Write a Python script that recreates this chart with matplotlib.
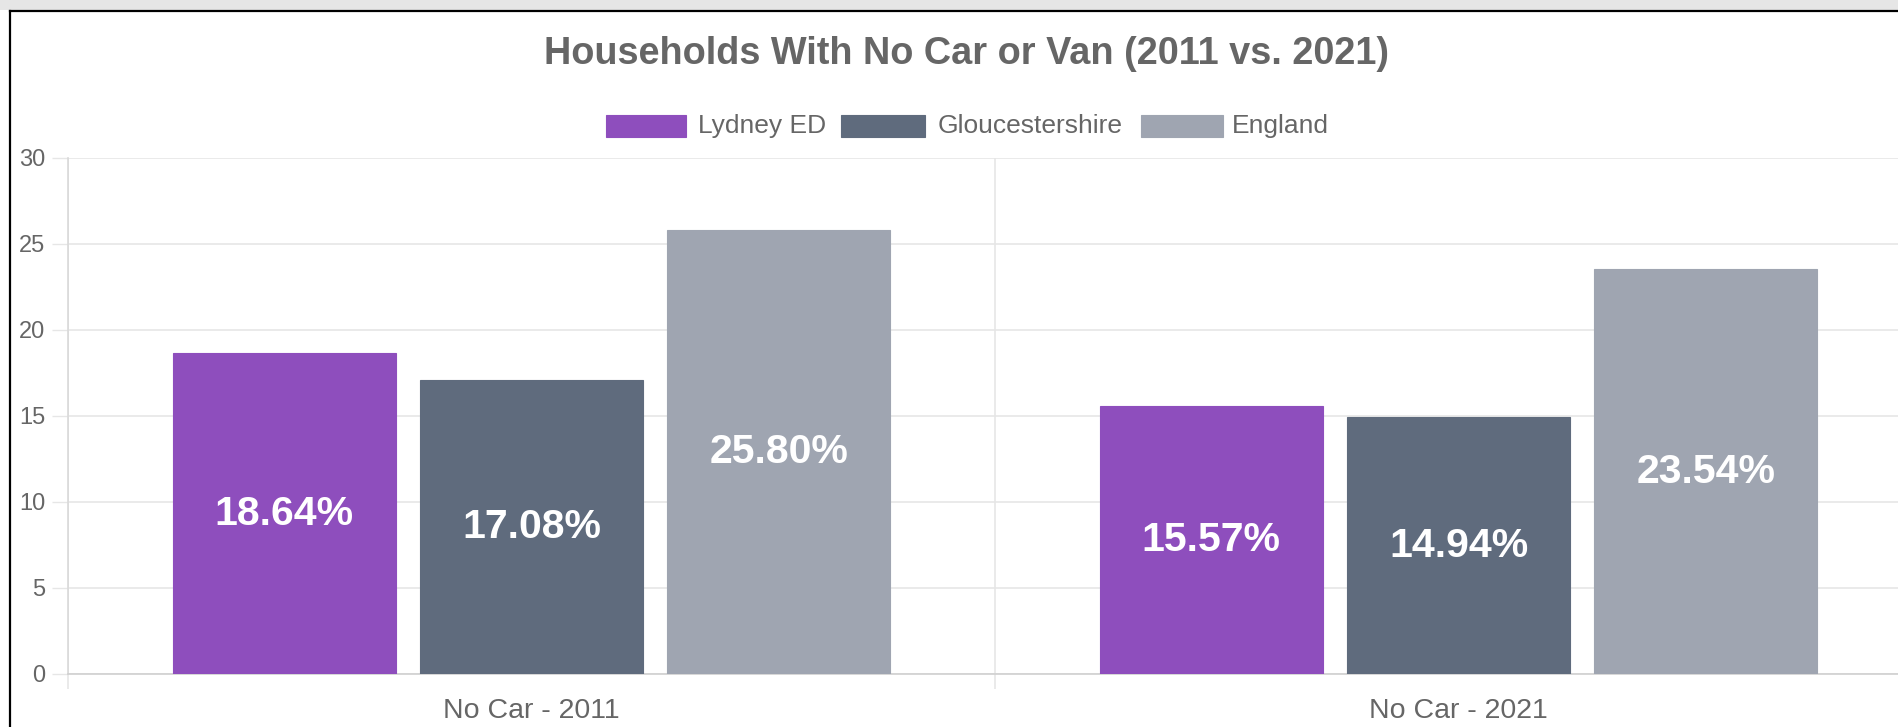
import matplotlib
matplotlib.use("Agg")
import matplotlib.pyplot as plt
from matplotlib.patches import Rectangle
from matplotlib.lines import Line2D
import numpy as np

plt.rcParams['font.family'] = ['Liberation Sans', 'DejaVu Sans']

title = "Households With No Car or Van (2011 vs. 2021)"
categories = ["No Car - 2011", "No Car - 2021"]
series_names = ["Lydney ED", "Gloucestershire", "England"]
lydney = [18.64, 15.57]
gloucestershire = [17.08, 14.94]
england = [25.80, 23.54]
series_values = [lydney, gloucestershire, england]
colors = ["#8E4EBD", "#5F6B7D", "#9FA5B1"]
y_ticks = [0, 5, 10, 15, 20, 25, 30]

W, H = 1898, 727
fig = plt.figure(figsize=(W / 100, H / 100), dpi=100)
fig.patch.set_facecolor("white")

def fx(px):
    return px / W

def fy(py):
    return 1 - py / H

# axes: left 68px, right 1922px (beyond figure), top 158px, bottom 674px
ax = fig.add_axes([fx(68), fy(674), (1922 - 68) / W, (674 - 158) / H])
ax.set_facecolor("white")

n = len(series_names)
x = np.arange(len(categories))
slot = 0.8 / n
bw = slot * 0.9
for i, (name, vals, c) in enumerate(zip(series_names, series_values, colors)):
    pos = x + (i - (n - 1) / 2) * slot
    bars = ax.bar(pos, vals, width=bw, color=c, edgecolor=c, linewidth=0.8, zorder=3, label=name)
    for b, v in zip(bars, vals):
        ax.text(b.get_x() + b.get_width() / 2, v / 2, f"{v:.2f}%", ha="center", va="center",
                color="white", fontsize=29.5, fontweight="bold", zorder=4)

grid_c = "#e6e6e6"
ax.set_xlim(-0.5, len(categories) - 0.5)
ax.set_ylim(0, 30)
ax.set_yticks(y_ticks)
ax.set_yticklabels([str(t) for t in y_ticks])
ax.yaxis.grid(True, color=grid_c, linewidth=1.2, zorder=0)
ax.tick_params(axis="y", length=11.5, width=1.0, color=grid_c, pad=5, labelsize=17, labelcolor="#666666")

ax.set_xticks(x)
ax.set_xticklabels(categories)
ax.tick_params(axis="x", which="major", length=0, pad=17, labelsize=20.5, labelcolor="#666666")
ax.set_xticks(np.arange(-0.5, len(categories), 1.0), minor=True)
ax.tick_params(axis="x", which="minor", length=11, width=1.2, color=grid_c)
ax.xaxis.grid(True, which="minor", color=grid_c, linewidth=1.2, zorder=0)
ax.xaxis.grid(False, which="major")

for s in ["top", "right"]:
    ax.spines[s].set_visible(False)
ax.spines["left"].set_color("#d9d9d9")
ax.spines["bottom"].set_color("#d0d0d0")
ax.spines["left"].set_linewidth(1.2)
ax.spines["bottom"].set_linewidth(1.2)

# title
fig.text(fx(966), fy(54), title, ha="center", va="center", fontsize=27.3,
         fontweight="bold", color="#666666")

# legend (manual)
legend_boxes = [(606, 686), (841, 925), (1141, 1223)]
legend_text_x = [698, 938, 1232]
for (x0, x1), tx, name, c in zip(legend_boxes, legend_text_x, series_names, colors):
    fig.add_artist(Rectangle((fx(x0), fy(137)), fx(x1 - x0), (137 - 115) / H,
                             transform=fig.transFigure, facecolor=c, edgecolor=c, linewidth=0.8))
    fig.text(fx(tx), fy(126), name, ha="left", va="center", fontsize=19, color="#666666")

# screenshot frame: gray band on top and black border
fig.add_artist(Rectangle((0, fy(10)), 1, 10 / H, transform=fig.transFigure,
                         facecolor="#e6e6e6", edgecolor="none"))
fig.add_artist(Line2D([fx(10), 1], [fy(11), fy(11)], transform=fig.transFigure, color="black", linewidth=1.6))
fig.add_artist(Line2D([fx(10), fx(10)], [fy(11), 0], transform=fig.transFigure, color="black", linewidth=1.6))

fig.savefig("out.png", dpi=100, facecolor="white")
